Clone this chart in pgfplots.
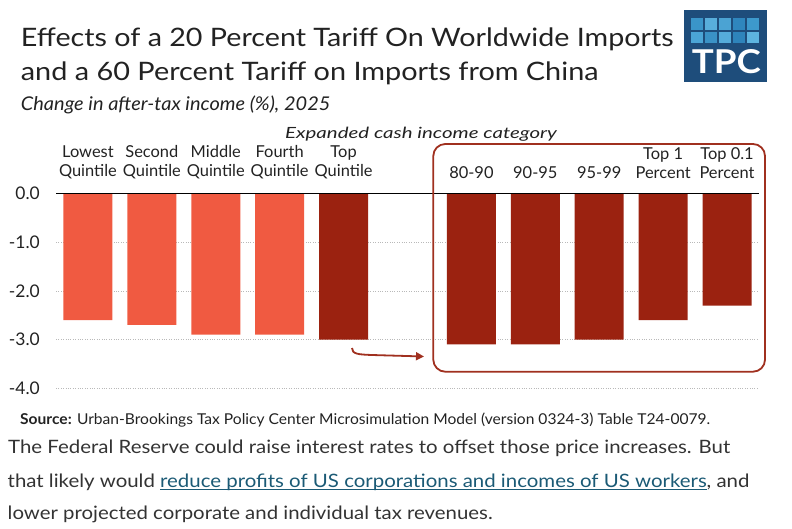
\documentclass[border=0pt]{standalone}
\usepackage{fontspec}
\setmainfont{Lato}
\usepackage{graphicx}
\usepackage{xcolor}
\usepackage{pgfplots}
\pgfplotsset{compat=1.18}
\usetikzlibrary{arrows.meta}
\definecolor{lightbar}{HTML}{F05A41}
\definecolor{darkbar}{HTML}{9B2210}
\definecolor{boxred}{HTML}{A0301F}
\definecolor{linkc}{HTML}{1B5A75}
\definecolor{logoblue}{HTML}{1E4D7B}
\definecolor{txt}{HTML}{222222}
\definecolor{body}{HTML}{333333}
\newcommand\lnk[1]{{\color{linkc}\setbox0\hbox{#1}\rlap{\rule[-2.4bp]{\wd0}{0.9bp}}\box0}}
\begin{document}
\begin{tikzpicture}
\path[use as bounding box] (0,0) rectangle (792bp,-529bp);
\begin{axis}[
  at={(56bp,-388.3bp)}, anchor=south west,
  scale only axis, width=703bp, height=194.8bp,
  xmin=-0.5, xmax=10.5, ymin=-4, ymax=0,
  clip=false,
  axis line style={draw=none},
  tick style={draw=none},
  ybar, bar width=49bp, bar shift=0pt,
  xtick={0,1,2,3,4,6,7,8,9,10},
  xticklabels={{Lowest\\Quintile},{Second\\Quintile},{Middle\\Quintile},{Fourth\\Quintile},{Top\\Quintile},{80-90},{90-95},{95-99},{Top 1\\Percent},{Top 0.1\\Percent}},
  xticklabel pos=upper,
  xticklabel style={align=center, inner sep=0pt, yshift=10bp, text=txt, font=\fontsize{16.5}{19.5}\selectfont},
  ytick={-4,-3,-2,-1,0},
  yticklabels={-4.0,-3.0,-2.0,-1.0,0.0},
  yticklabel style={anchor=east, inner sep=0pt, xshift=-16bp, text=txt, font=\fontsize{17.5}{20}\selectfont},
  ymajorgrids,
  grid style={gray!55, line width=0.8bp, dash pattern=on 1bp off 1.4bp},
]
\addplot[fill=lightbar, draw=none] coordinates {(0,-2.6) (1,-2.7) (2,-2.9) (3,-2.9)};
\addplot[fill=darkbar, draw=none] coordinates {(4,-3.0) (6,-3.1) (7,-3.1) (8,-3.0) (9,-2.6) (10,-2.3)};
\draw[black, line width=1.3bp] (axis cs:-0.5,0) -- (axis cs:10.5,0);
\end{axis}
% highlight box and arrow
\draw[boxred, line width=1.8bp, rounded corners=12bp] (433.3bp,-144bp) rectangle (765bp,-371.7bp);
\draw[boxred, line width=1.8bp, -{Triangle[length=8bp,width=8bp]}] (352bp,-348bp) .. controls (352bp,-354bp) and (358bp,-354.5bp) .. (372bp,-355bp) -- (424bp,-356.5bp);
% titles
\node[anchor=base west, inner sep=0, text=txt] at (20.7bp,-46.7bp) {\resizebox{652.6bp}{\height}{\fontsize{25.5}{30}\selectfont Effects of a 20 Percent Tariff On Worldwide Imports}};
\node[anchor=base west, inner sep=0, text=txt] at (20.7bp,-80bp) {\resizebox{577.6bp}{\height}{\fontsize{25.5}{30}\selectfont and a 60 Percent Tariff on Imports from China}};
\node[anchor=base west, inner sep=0, text=txt] at (20.7bp,-110bp) {\resizebox{309.5bp}{\height}{\fontsize{19}{22}\selectfont\itshape Change in after-tax income (\%), 2025}};
\node[anchor=base, inner sep=0, text=txt] at (421bp,-138bp) {\resizebox{271.7bp}{\height}{\fontsize{15.5}{19}\selectfont\itshape Expanded cash income category}};
% source and body
\node[anchor=base west, inner sep=0, text=txt] at (20bp,-424.3bp) {\resizebox{690bp}{\height}{\fontsize{15}{18}\selectfont\textbf{Source:} Urban-Brookings Tax Policy Center Microsimulation Model (version 0324-3) Table T24-0079.}};
\node[anchor=base west, inner sep=0, text=body] at (8bp,-453.3bp) {\resizebox{722bp}{\height}{\fontsize{18.5}{22}\selectfont The Federal Reserve could raise interest rates to offset those price increases. But}};
\node[anchor=base west, inner sep=0, text=body] at (7.5bp,-487bp) {\resizebox{741.8bp}{\height}{\fontsize{18.5}{22}\selectfont that likely would \lnk{reduce profits of US corporations and incomes of US workers}, and}};
\node[anchor=base west, inner sep=0, text=body] at (7.5bp,-519bp) {\resizebox{485bp}{\height}{\fontsize{18.5}{22}\selectfont lower projected corporate and individual tax revenues.}};
% logo
\fill[logoblue] (684bp,-10bp) rectangle (766.7bp,-81.7bp);
\foreach \i/\c in {0/3A95C9,1/58AEDB,2/4BA3D3,3/2F86BD,4/3D99CC}{
  \definecolor{sq}{HTML}{\c}
  \fill[sq] ({690.7bp+\i*14bp},-18.3bp) rectangle ({703bp+\i*14bp},-30bp);
}
\foreach \i/\c in {0/4BA5D6,1/3A92C6,2/55ACDA,3/2E84BB,4/5DB4DF}{
  \definecolor{sq}{HTML}{\c}
  \fill[sq] ({690.7bp+\i*14bp},-31.7bp) rectangle ({703bp+\i*14bp},-43.3bp);
}
\node[anchor=south west, inner sep=0, text=white] at (691.7bp,-74bp) {\resizebox{69bp}{24bp}{\bfseries TPC}};
\end{tikzpicture}
\end{document}
